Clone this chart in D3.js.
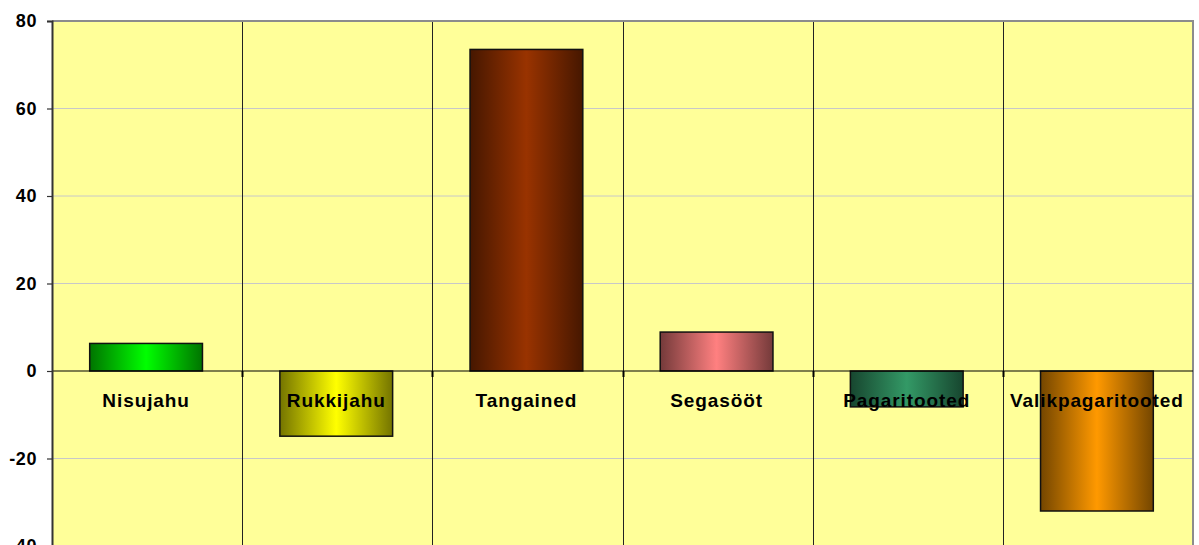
<!DOCTYPE html>
<html>
<head>
<meta charset="utf-8">
<title>Chart</title>
<style>
  body { margin: 0; background: #fff; }
  text { font-family: Arial, "Liberation Sans", sans-serif; font-weight: bold; }
</style>
</head>
<body>
<script src="https://cdn.jsdelivr.net/npm/d3@7"></script>
<script>
// data
var categories = ["Nisujahu", "Rukkijahu", "Tangained", "Segasööt", "Pagaritooted", "Valikpagaritooted"];
var values = [6.3, -14.9, 73.5, 8.9, -8.2, -32.0];
var barColors = ["#00ff00", "#ffff00", "#993300", "#ff8080", "#339966", "#ff9900"];
var yTicks = [80, 60, 40, 20, 0, -20, -40];

var width = 1199, height = 545;
var plotLeft = 52, plotRight = 1193, plotTop = 21, plotBottom = 546;

var svg = d3.select("body").append("svg")
  .attr("width", width)
  .attr("height", height);

var x = d3.scaleBand().domain(categories).range([plotLeft, plotRight]).padding(0);
var y = d3.scaleLinear().domain([-40, 80]).range([plotBottom, plotTop]);
var barW = x.bandwidth() * 0.593;

// gradients for the bars
var defs = svg.append("defs");
barColors.forEach(function (c, i) {
  var g = defs.append("linearGradient").attr("id", "grad" + i)
    .attr("x1", "0%").attr("x2", "100%").attr("y1", "0%").attr("y2", "0%");
  var dark = d3.rgb(c).darker(2.2).formatHex();
  g.append("stop").attr("offset", "0%").attr("stop-color", dark);
  g.append("stop").attr("offset", "50%").attr("stop-color", c);
  g.append("stop").attr("offset", "100%").attr("stop-color", dark);
});

// plot background
svg.append("rect")
  .attr("x", plotLeft).attr("y", plotTop)
  .attr("width", plotRight - plotLeft).attr("height", plotBottom - plotTop)
  .attr("fill", "#ffff99");

// horizontal gridlines
svg.selectAll(".hgrid")
  .data(yTicks.filter(function (d) { return d !== 0 && d !== 80; }))
  .enter().append("line")
  .attr("x1", plotLeft).attr("x2", plotRight)
  .attr("y1", function (d) { return y(d); })
  .attr("y2", function (d) { return y(d); })
  .attr("stroke", "#c8c8c8").attr("stroke-width", 1);

// vertical category separators
svg.selectAll(".vgrid")
  .data(categories.slice(1))
  .enter().append("line")
  .attr("x1", function (d) { return Math.round(x(d)) + 0.5; })
  .attr("x2", function (d) { return Math.round(x(d)) + 0.5; })
  .attr("y1", plotTop).attr("y2", plotBottom)
  .attr("stroke", "#222").attr("stroke-width", 1);

// plot border top/right (grey)
svg.append("line").attr("x1", plotLeft).attr("x2", plotRight + 1)
  .attr("y1", plotTop).attr("y2", plotTop)
  .attr("stroke", "#8c8c8c").attr("stroke-width", 2);
svg.append("line").attr("x1", plotRight).attr("x2", plotRight)
  .attr("y1", plotTop).attr("y2", plotBottom)
  .attr("stroke", "#8c8c8c").attr("stroke-width", 2);

// bars
svg.selectAll(".bar")
  .data(values)
  .enter().append("rect")
  .attr("x", function (d, i) { return x(categories[i]) + (x.bandwidth() - barW) / 2 - 1; })
  .attr("width", barW)
  .attr("y", function (d) { return y(Math.max(0, d)); })
  .attr("height", function (d) { return Math.abs(y(d) - y(0)); })
  .attr("fill", function (d, i) { return "url(#grad" + i + ")"; })
  .attr("stroke", "#111").attr("stroke-width", 1.5);

// zero line
svg.append("line")
  .attr("x1", plotLeft).attr("x2", plotRight)
  .attr("y1", y(0)).attr("y2", y(0))
  .attr("stroke", "#000").attr("stroke-width", 1.2);

// category ticks on the zero line
svg.selectAll(".ctick")
  .data(categories.slice(1))
  .enter().append("line")
  .attr("x1", function (d) { return Math.round(x(d)) + 0.5; })
  .attr("x2", function (d) { return Math.round(x(d)) + 0.5; })
  .attr("y1", y(0)).attr("y2", y(0) + 6)
  .attr("stroke", "#000").attr("stroke-width", 2);

// y axis (plain hyphen for negatives, like the original)
var yAxis = d3.axisLeft(y).tickValues(yTicks).tickSize(5).tickPadding(10)
  .tickFormat(function (d) { return String(d); });
var ga = svg.append("g").attr("transform", "translate(" + plotLeft + ",0)").call(yAxis);
ga.select(".domain").attr("stroke", "#333").attr("stroke-width", 2);
ga.selectAll(".tick line").attr("stroke", "#333").attr("stroke-width", 1.2);
ga.selectAll(".tick text")
  .attr("fill", "#000")
  .style("font-size", "18px")
  .style("font-weight", "bold")
  .style("letter-spacing", "0.6px")
  .style("font-family", "Arial, 'Liberation Sans', sans-serif");

// category labels
svg.selectAll(".clabel")
  .data(categories)
  .enter().append("text")
  .attr("x", function (d) { return x(d) + x.bandwidth() / 2 - 1; })
  .attr("y", y(0) + 36)
  .attr("text-anchor", "middle")
  .attr("fill", "#000")
  .style("font-size", "19px")
  .style("letter-spacing", "0.9px")
  .text(function (d) { return d; });
</script>
</body>
</html>
